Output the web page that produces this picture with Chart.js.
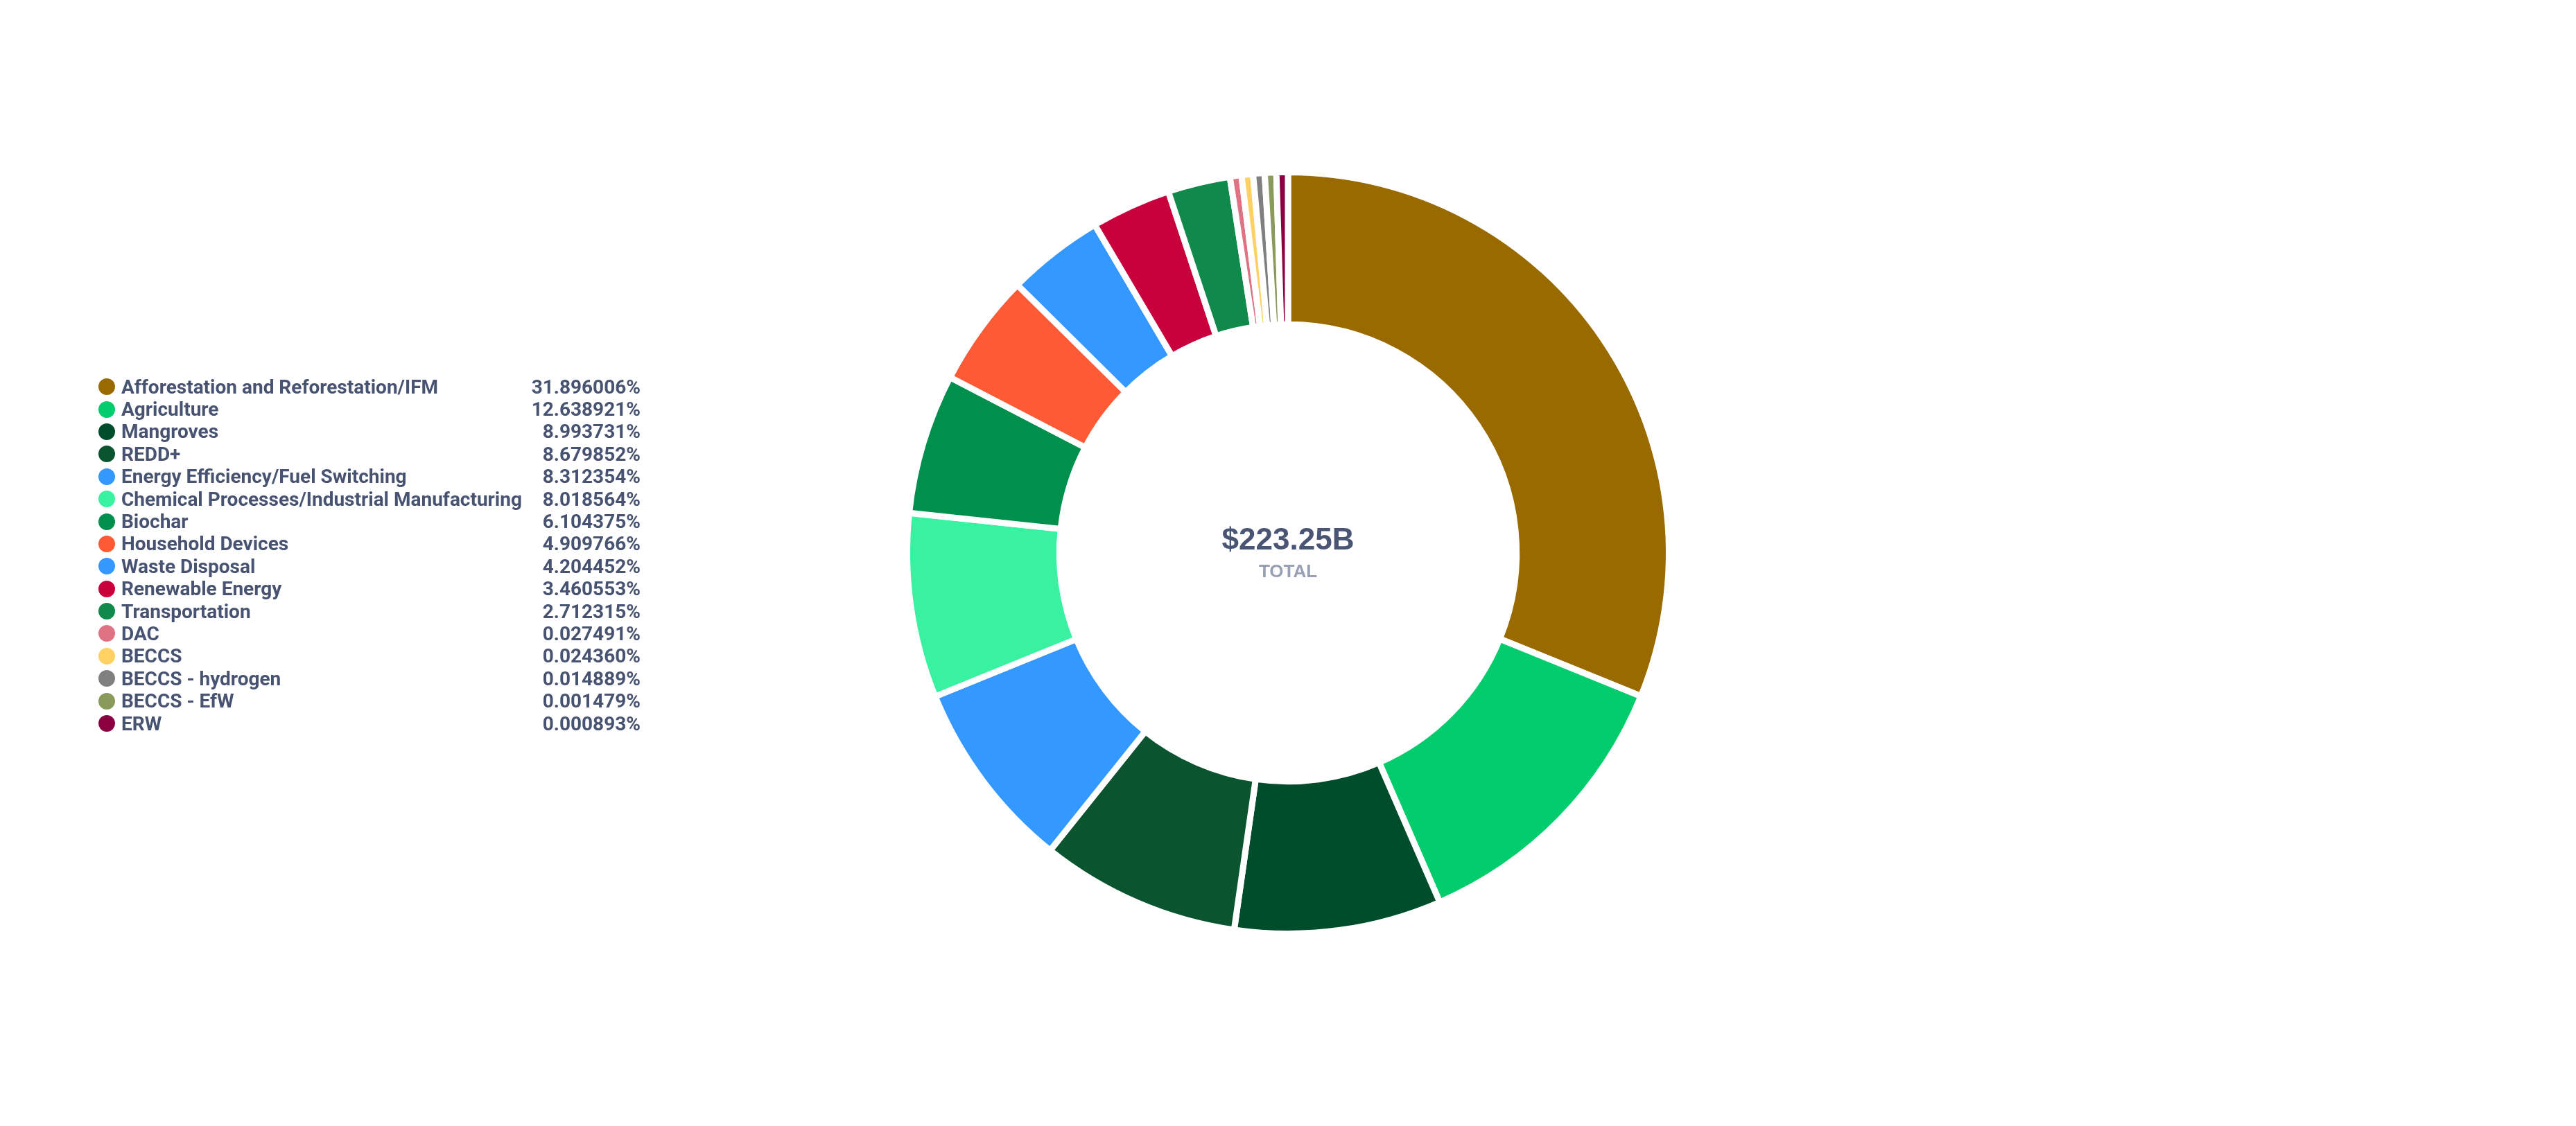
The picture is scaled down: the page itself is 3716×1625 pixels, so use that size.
<!DOCTYPE html>
<html>
<head>
<meta charset="utf-8">
<script src="https://cdn.jsdelivr.net/npm/chart.js@4.4.1/dist/chart.umd.min.js"></script>
<style>
  html, body { margin: 0; padding: 0; background: #fff; }
  #wrap { position: relative; width: 3716px; height: 1625px; }
  #chart { position: absolute; left: 0; top: 0; }
  #legend {
    position: absolute; left: 142px; top: 542px; width: 782px;
    font-family: Roboto, "Noto Sans", sans-serif; font-weight: 700;
    font-size: 28px; color: #475370;
  }
  .row { display: flex; align-items: center; height: 32.4px; white-space: nowrap; }
  .dot { width: 24px; height: 24px; border-radius: 50%; margin-right: 9px; flex: none; }
  .val { margin-left: auto; }
</style>
</head>
<body>
<div id="wrap">
  <canvas id="chart" width="3716" height="1625"></canvas>
  <div id="legend"></div>
</div>
<script>
// Kategori dan porsi (%) per kategori
const categories = [
  "Afforestation and Reforestation/IFM", "Agriculture", "Mangroves", "REDD+",
  "Energy Efficiency/Fuel Switching", "Chemical Processes/Industrial Manufacturing",
  "Biochar", "Household Devices", "Waste Disposal", "Renewable Energy",
  "Transportation", "DAC", "BECCS", "BECCS - hydrogen", "BECCS - EfW", "ERW"
];
const shares = [
  31.896006, 12.638921, 8.993731, 8.679852, 8.312354, 8.018564,
  6.104375, 4.909766, 4.204452, 3.460553, 2.712315, 0.027491,
  0.024360, 0.014889, 0.001479, 0.000893
];
const colors = [
  "#996a00", "#03cc6c", "#004d2c", "#0a5530", "#3398ff", "#38f2a2",
  "#008f4c", "#ff5a36", "#3398ff", "#c8003c", "#108a4a", "#e07383",
  "#ffd062", "#808080", "#8a9a5b", "#8b0040"
];
const totalLabel = "$223.25B";
const subLabel = "TOTAL";

// irisan kecil tetap terlihat
const MIN_SHARE = 0.5;
const shown = shares.map(v => Math.max(v, MIN_SHARE));

// Legend HTML
const legend = document.getElementById("legend");
categories.forEach((name, i) => {
  const row = document.createElement("div");
  row.className = "row";
  row.innerHTML = `<span class="dot" style="background:${colors[i]}"></span>` +
    `<span>${name}</span><span class="val">${shares[i].toFixed(6)}%</span>`;
  legend.appendChild(row);
});

// Teks di tengah donut
const centerText = {
  id: "centerText",
  afterDraw(chart) {
    const { ctx } = chart;
    const arc = chart.getDatasetMeta(0).data[0];
    const x = arc.x, y = arc.y;
    ctx.save();
    ctx.textAlign = "center";
    ctx.textBaseline = "middle";
    ctx.fillStyle = "#4a5573";
    ctx.font = "bold 44px 'Liberation Sans', Arial, sans-serif";
    ctx.fillText(totalLabel, x, y - 17);
    ctx.fillStyle = "#9aa0b4";
    ctx.font = "bold 26px 'Liberation Sans', Arial, sans-serif";
    ctx.fillText(subLabel, x, y + 28);
    ctx.restore();
  }
};

new Chart(document.getElementById("chart").getContext("2d"), {
  type: "doughnut",
  data: {
    labels: categories,
    datasets: [{
      data: shown,
      backgroundColor: colors,
      borderColor: "#ffffff",
      borderWidth: 9
    }]
  },
  options: {
    responsive: false,
    animation: false,
    cutout: "60%",
    layout: { padding: { top: 244, bottom: 273 } },
    plugins: {
      legend: { display: false },
      tooltip: { enabled: false }
    }
  },
  plugins: [centerText]
});
</script>
</body>
</html>
